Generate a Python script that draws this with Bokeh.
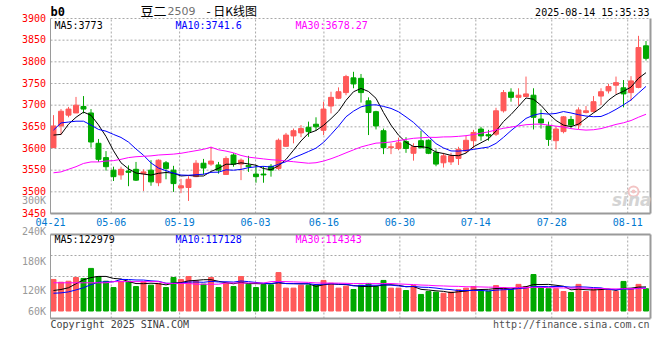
from bokeh.plotting import figure
from bokeh.models import Range1d
from bokeh.core.properties import value
from bokeh.embed import file_html
from bokeh.resources import INLINE

# ---------------- data ----------------
opens = [3602, 3652, 3677, 3682, 3697, 3682, 3612, 3579, 3550, 3539,
         3548, 3552, 3542, 3550, 3521, 3567, 3550, 3509, 3510, 3535,
         3566, 3564, 3562, 3540, 3585, 3564, 3561, 3541, 3541, 3559,
         3554, 3605, 3629, 3636, 3649, 3656, 3642, 3698, 3716, 3729,
         3763, 3762, 3710, 3685, 3641, 3602, 3600, 3616, 3589, 3618,
         3619, 3591, 3567, 3569, 3577, 3594, 3618, 3645, 3632, 3633,
         3687, 3730, 3718, 3720, 3723, 3668, 3652, 3618, 3639, 3667,
         3654, 3683, 3685, 3721, 3733, 3746, 3740, 3729, 3741, 3837]
highs = [3677, 3691, 3696, 3719, 3721, 3691, 3622, 3594, 3558, 3558,
         3561, 3569, 3552, 3573, 3575, 3571, 3560, 3530, 3536, 3573,
         3576, 3604, 3569, 3582, 3589, 3577, 3583, 3562, 3559, 3564,
         3623, 3636, 3646, 3654, 3662, 3672, 3708, 3731, 3741, 3770,
         3777, 3772, 3718, 3687, 3646, 3612, 3625, 3626, 3612, 3641,
         3621, 3598, 3590, 3590, 3604, 3629, 3643, 3650, 3643, 3694,
         3735, 3739, 3739, 3766, 3739, 3690, 3662, 3650, 3675, 3675,
         3695, 3698, 3721, 3739, 3749, 3766, 3758, 3767, 3860, 3848]
lows = [3601, 3631, 3672, 3682, 3681, 3602, 3569, 3549, 3525, 3528,
        3513, 3525, 3502, 3514, 3513, 3529, 3500, 3497, 3479, 3534,
        3540, 3560, 3542, 3539, 3558, 3527, 3546, 3521, 3521, 3535,
        3550, 3604, 3612, 3626, 3627, 3641, 3631, 3681, 3714, 3723,
        3739, 3706, 3631, 3644, 3587, 3587, 3596, 3590, 3572, 3600,
        3587, 3559, 3556, 3562, 3562, 3590, 3600, 3618, 3618, 3629,
        3683, 3708, 3699, 3718, 3644, 3646, 3606, 3598, 3635, 3646,
        3645, 3681, 3683, 3700, 3727, 3726, 3695, 3710, 3739, 3803]
closes = [3652, 3686, 3691, 3700, 3691, 3615, 3575, 3558, 3535, 3552,
          3545, 3527, 3546, 3523, 3573, 3554, 3519, 3514, 3529, 3566,
          3555, 3571, 3550, 3577, 3564, 3573, 3558, 3535, 3539, 3550,
          3619, 3631, 3641, 3646, 3639, 3650, 3691, 3718, 3731, 3766,
          3749, 3729, 3683, 3652, 3602, 3604, 3613, 3600, 3604, 3602,
          3589, 3564, 3583, 3583, 3598, 3619, 3637, 3629, 3629, 3687,
          3729, 3718, 3723, 3726, 3672, 3659, 3621, 3645, 3673, 3654,
          3689, 3687, 3708, 3731, 3743, 3752, 3726, 3756, 3833, 3808]
volumes = [160000, 146000, 151000, 170000, 165000, 216000, 175000, 151000, 119000, 151000,
           151000, 124000, 148000, 131000, 140000, 119000, 170000, 160000, 175000, 153000,
           136000, 170000, 119000, 141000, 124000, 175000, 136000, 119000, 133000, 133000,
           195000, 116000, 116000, 131000, 131000, 131000, 155000, 141000, 116000, 126000,
           109000, 131000, 140000, 124000, 155000, 116000, 116000, 104000, 129000, 84000,
           99000, 96000, 90000, 96000, 108000, 116000, 124000, 101000, 101000, 129000,
           119000, 109000, 135000, 124000, 185000, 118000, 113000, 113000, 99000, 94000,
           135000, 99000, 108000, 108000, 108000, 99000, 150000, 114000, 135000, 113000]

# moving-average values before enough bars exist
price_ma5_head = [3631, 3632.5, 3656, 3672]
price_ma10_head = [3642.5, 3659, 3661, 3663, 3663, 3654, 3644, 3640, 3632.5]
price_ma30_head = [3544, 3546, 3552, 3558, 3565.5, 3569, 3569, 3571, 3572, 3575,
                   3579, 3581, 3582, 3583, 3585, 3586, 3587, 3589, 3592, 3595,
                   3598, 3603, 3597, 3594, 3590, 3584, 3580, 3578, 3576]
vol_ma5_head = [104000, 109000, 118000, 138000]
vol_ma10_head = [90000, 92000, 97000, 107000, 118000, 134000, 146000, 148000, 148000]
vol_ma30_head = [143000, 143000, 143000, 143000, 143000, 143000, 143000, 143000, 149000, 149000,
                 149000, 149000, 149000, 149000, 149000, 140000, 140000, 140000, 140000, 136000,
                 136000, 136000, 136000, 142000, 142000, 142000, 142000, 142000, 142000]

date_labels = ["04-21", "05-06", "05-19", "06-03", "06-16", "06-30", "07-14", "07-28", "08-11"]
date_index = [0, 8, 17, 27, 36, 46, 56, 66, 76]
price_ticks = [3450, 3500, 3550, 3600, 3650, 3700, 3750, 3800, 3850, 3900]
vol_axis_labels = ["300K", "240K", "180K", "120K", "60K"]
price_ma_text = ["MA5:3773", "MA10:3741.6", "MA30:3678.27"]
vol_ma_text = ["MA5:122979", "MA10:117128", "MA30:114343"]

# ---------------- styles / layout (window pixels) ----------------
W, H = 660, 340
MONO = "DejaVu Sans Mono"
CJK = "Noto Sans CJK SC"
RED = "#ff5a5a"
GREEN = "#00a800"
GRID = "#a8a8a8"
BORDER = "#9a9a9a"
MA_COLORS = ["#000000", "#0000ff", "#ff00ff"]

PANEL_L, PANEL_R = 50, 650
P_TOP, P_BOT, P_LO, P_HI = 18, 213, 3450, 3900
V_TOP, V_BOT, V_LO, V_HI = 234, 318, -38000, 388000

n = len(closes)
xs = list(range(n))
STEP = (PANEL_R - PANEL_L) / n
X0 = -0.4
X1 = X0 + n
PPU = (P_BOT - P_TOP) / (P_HI - P_LO)
VPU = (V_BOT - V_TOP) / (V_HI - V_LO)


def wx2x(wx):
    return X0 + (wx - PANEL_L) / STEP


def wy2p(wy):
    return P_LO + (P_BOT - wy) / PPU


def wy2v(wy):
    return V_LO + (V_BOT - wy) / VPU


def mavg(vals, k, head):
    return list(head) + [sum(vals[i - k + 1:i + 1]) / k for i in range(len(head), len(vals))]


colors = [RED if c >= o else GREEN for o, c in zip(opens, closes)]
body_top = [max(o, c) for o, c in zip(opens, closes)]
body_bot = [min(o, c) for o, c in zip(opens, closes)]
tick_pos = [i * n / (n - 1) + X0 for i in date_index]

p = figure(width=W, height=H, output_backend="svg", toolbar_location=None,
           x_range=Range1d(wx2x(0), wx2x(W)), y_range=Range1d(wy2p(H), wy2p(0)),
           min_border=0, min_border_left=0, min_border_right=0,
           min_border_top=0, min_border_bottom=0)
p.extra_y_ranges = {"vol": Range1d(wy2v(H), wy2v(0))}
p.axis.visible = False
p.grid.visible = False
p.outline_line_color = None
p.background_fill_color = "white"
p.border_fill_color = "white"


def put_text(x, y, texts, color, size="10px", align="left", font=MONO, style="normal",
             rng=None, y_offset=0):
    kw = dict(x=x, y=y, text=texts, text_color=color, text_font=value(font),
              text_font_size=value(size), text_align=value(align),
              text_baseline=value("middle"), text_font_style=value(style),
              y_offset=y_offset)
    if rng:
        kw["y_range_name"] = rng
    p.text(**kw)


# ---------- price panel grid + frame ----------
hgrid = price_ticks[1:]
p.segment(x0=[X0] * len(hgrid), x1=[X1] * len(hgrid), y0=hgrid, y1=hgrid,
          line_color=GRID, line_dash="2 2", line_width=1)
p.segment(x0=tick_pos, x1=tick_pos, y0=[P_LO] * len(tick_pos), y1=[P_HI] * len(tick_pos),
          line_color=GRID, line_dash="2 2", line_width=1)
p.segment(x0=[X0], x1=[X0], y0=[P_LO], y1=[P_HI], line_color=BORDER, line_width=1)
p.segment(x0=[X1], x1=[X1], y0=[P_LO], y1=[P_HI], line_color=BORDER, line_width=2)
p.segment(x0=[X0], x1=[X1], y0=[P_LO], y1=[P_LO], line_color=BORDER, line_width=2)

# watermark (drawn under the data)
p.scatter(x=[wx2x(633)], y=[wy2p(191)], marker="circle", size=10, fill_color=None,
          line_color="#f3c4c4", line_width=2)
p.scatter(x=[wx2x(633)], y=[wy2p(191)], marker="circle", size=4, fill_color="#f3c4c4",
          line_color=None)
put_text([wx2x(651)], [wy2p(199)], ["sina"], "#d4d4d4", size="17px", align="right",
         font="DejaVu Sans", style="bold italic")

# ---------- candles ----------
p.segment(x0=xs, y0=lows, x1=xs, y1=highs, color=colors, line_width=1)
p.vbar(x=xs, top=body_top, bottom=body_bot, width=0.66, fill_color=colors,
       line_color=colors, line_width=1)
for vals, col in zip((mavg(closes, 5, price_ma5_head), mavg(closes, 10, price_ma10_head),
                      mavg(closes, 30, price_ma30_head)), MA_COLORS):
    p.line(xs, vals, line_color=col, line_width=1)

# ---------- volume panel grid + frame ----------
vq = [V_LO + k * (V_HI - V_LO) / 4 for k in (1, 2, 3)]
p.segment(x0=[X0] * 3, x1=[X1] * 3, y0=vq, y1=vq, line_color=GRID, line_dash="2 2",
          line_width=1, y_range_name="vol")
p.segment(x0=tick_pos, x1=tick_pos, y0=[V_LO] * len(tick_pos), y1=[V_HI] * len(tick_pos),
          line_color=GRID, line_dash="2 2", line_width=1, y_range_name="vol")
p.vbar(x=xs, top=volumes, bottom=0, width=0.66, fill_color=colors, line_color=colors,
       line_width=1, y_range_name="vol")
for vals, col in zip((mavg(volumes, 5, vol_ma5_head), mavg(volumes, 10, vol_ma10_head),
                      mavg(volumes, 30, vol_ma30_head)), MA_COLORS):
    p.line(xs, vals, line_color=col, line_width=1, y_range_name="vol")
p.segment(x0=[X0], x1=[X0], y0=[V_LO], y1=[V_HI], line_color=BORDER, line_width=1,
          y_range_name="vol")
p.segment(x0=[X1], x1=[X1], y0=[V_LO], y1=[V_HI], line_color=BORDER, line_width=2,
          y_range_name="vol")
p.segment(x0=[X0, X0], x1=[X1, X1], y0=[V_LO, V_HI], y1=[V_LO, V_HI], line_color=BORDER,
          line_width=2, y_range_name="vol")

# ---------- texts ----------
# price scale labels
put_text([wx2x(45.5)] * len(price_ticks), price_ticks, [str(t) for t in price_ticks],
         "#ff0000", align="right", y_offset=-1)
# date labels
put_text(tick_pos, [wy2p(221.5)] * len(tick_pos), date_labels, "#0078d0", align="center")
# volume scale labels (placed as in the original)
put_text([wx2x(45.5)] * len(vol_axis_labels), [wy2v(w) for w in (200, 231, 261, 290, 311)],
         vol_axis_labels, "#999999", align="right", rng="vol")
# MA readouts
for txt, wx, col in zip(price_ma_text, (54, 175, 295), MA_COLORS):
    put_text([wx2x(wx)], [wy2p(24.5)], [txt], col)
for txt, wx, col in zip(vol_ma_text, (54, 175, 295), MA_COLORS):
    put_text([wx2x(wx)], [wy2v(238.5)], [txt], col, rng="vol")
# header
put_text([wx2x(50)], [wy2p(11)], ["b0"], "#000000", size="12px", style="bold")
put_text([wx2x(140)], [wy2p(9.5)], ["豆二"], "#000000", size="13px", font=CJK)
put_text([wx2x(167)], [wy2p(10.5)], ["2509"], "#707070", size="11px", font="DejaVu Sans")
put_text([wx2x(206)], [wy2p(9.5)], ["- 日K线图"], "#000000", size="12px", font=CJK)
put_text([wx2x(649)], [wy2p(12)], ["2025-08-14 15:35:33"], "#000000", align="right")
# footer
put_text([wx2x(50)], [wy2p(324)], ["Copyright 2025 SINA.COM"], "#404040")
put_text([wx2x(649)], [wy2p(324)], ["http://finance.sina.com.cn"], "#505050", align="right")

open("out.html", "w").write(file_html(p, INLINE))
